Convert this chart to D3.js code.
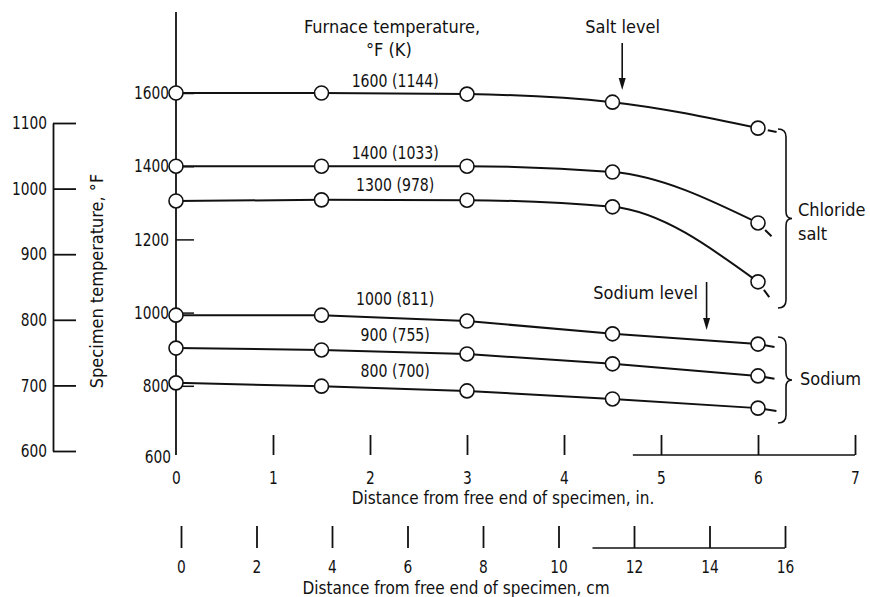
<!DOCTYPE html>
<html><head><meta charset="utf-8">
<script src="https://cdn.jsdelivr.net/npm/d3@7"></script>
<style>
html,body{margin:0;padding:0;background:#fff;}
svg text{font-family:"DejaVu Sans Condensed","DejaVu Sans",sans-serif;fill:#111;}
</style></head>
<body><svg id="c" width="870" height="597"></svg>
<script>
// ---- data ----
const distIn = [0, 1.5, 3, 4.5, 6];
const furnace = ["1600 (1144)", "1400 (1033)", "1300 (978)", "1000 (811)", "900 (755)", "800 (700)"];
const medium = ["salt", "salt", "salt", "sodium", "sodium", "sodium"];
const s1600 = [1600, 1600, 1597, 1575, 1504];
const s1400 = [1400, 1400, 1400, 1384, 1245];
const s1300 = [1305, 1308, 1307, 1289, 1084];
const s1000 = [993, 993, 977, 942, 914];
const s900  = [903, 898, 887, 860, 827];
const s800  = [808, 799, 786, 764, 739];
const tailX = [6.25, 6.21, 6.16, 6.17, 6.17, 6.19];
const tailY = [1490, 1190, 1026, 906, 819, 731];
const labelY = [1617, 1420, 1333, 1020, 922, 825];
const mainTicks = [600, 800, 1000, 1200, 1400, 1600];
const specTicks = [600, 700, 800, 900, 1000, 1100];
const inTicks = [0, 1, 2, 3, 4, 5, 6, 7];
const cmTicks = [0, 2, 4, 6, 8, 10, 12, 14, 16];

const series = [s1600, s1400, s1300, s1000, s900, s800];

const svg = d3.select("#c");
const xIn = d3.scaleLinear().domain([0, 7]).range([176, 855]);
const xCm = d3.scaleLinear().domain([0, 16]).range([181, 785]);
const yMain = d3.scaleLinear().domain([600, 1600]).range([459, 93]);
const ySpec = d3.scaleLinear().domain([600, 1100]).range([451, 123]);
const FS = 18;

// narrow digits like the original lettering
function narrow(sel, k) {
  sel.each(function () {
    const w = this.getComputedTextLength();
    d3.select(this).attr("textLength", w * k).attr("lengthAdjust", "spacingAndGlyphs");
  });
}

// left specimen axis
const gSpec = svg.append("g").attr("transform", "translate(53,0)")
  .call(d3.axisLeft(ySpec).tickValues(specTicks).tickSizeInner(-23).tickSizeOuter(0).tickPadding(6).tickFormat(d3.format("d")));
gSpec.selectAll("path,line").attr("stroke", "#111").attr("stroke-width", 1.8);
gSpec.selectAll("text").attr("font-size", FS).attr("font-family", null).call(narrow, 0.85);
svg.append("text").attr("transform", "translate(103,281) rotate(-90)")
  .attr("text-anchor", "middle").attr("font-size", FS).text("Specimen temperature, °F");

// main y axis
svg.append("line").attr("x1", 176).attr("x2", 176).attr("y1", 12).attr("y2", 455)
  .attr("stroke", "#111").attr("stroke-width", 1.8);
const gMain = svg.append("g").attr("transform", "translate(176,0)")
  .call(d3.axisLeft(yMain).tickValues(mainTicks).tickSize(-18).tickPadding(7).tickFormat(d3.format("d")));
gMain.select(".domain").remove();
gMain.selectAll("line").attr("stroke", "#111").attr("stroke-width", 1.5);
gMain.selectAll(".tick").filter(d => d === 600).select("line").remove();
gMain.selectAll(".tick").filter(d => d === 600).select("text").attr("x", -5).attr("dy", "0.2em");
gMain.selectAll("text").attr("font-size", FS).attr("font-family", null).call(narrow, 0.85);

// inch axis
const gIn = svg.append("g").attr("transform", "translate(0,455)")
  .call(d3.axisBottom(xIn).tickValues(inTicks).tickSize(-20).tickPadding(16).tickFormat(d3.format("d")));
gIn.select(".domain").remove();
gIn.selectAll("line").attr("stroke", "#111").attr("stroke-width", 1.8);
gIn.selectAll(".tick").filter(d => d === 0).select("line").remove();
gIn.selectAll("text").attr("font-size", FS).attr("font-family", null).call(narrow, 0.85);
svg.append("line").attr("x1", xIn(4.71)).attr("x2", xIn(7)).attr("y1", 455).attr("y2", 455)
  .attr("stroke", "#111").attr("stroke-width", 1.5);
svg.append("text").attr("x", 503).attr("y", 504).attr("text-anchor", "middle")
  .attr("font-size", 17).text("Distance from free end of specimen,  in.");

// cm axis
const gCm = svg.append("g").attr("transform", "translate(0,548)")
  .call(d3.axisBottom(xCm).tickValues(cmTicks).tickSize(-22).tickPadding(12).tickFormat(d3.format("d")));
gCm.select(".domain").remove();
gCm.selectAll("line").attr("stroke", "#111").attr("stroke-width", 1.8);
gCm.selectAll("text").attr("font-size", FS).attr("font-family", null).call(narrow, 0.85);
svg.append("line").attr("x1", xCm(10.9)).attr("x2", xCm(16)).attr("y1", 548).attr("y2", 548)
  .attr("stroke", "#111").attr("stroke-width", 1.5);
svg.append("text").attr("x", 456).attr("y", 594).attr("text-anchor", "middle")
  .attr("font-size", 17).text("Distance from free end of specimen,  cm");

// curves
const lineSmooth = d3.line().x(d => xIn(d[0])).y(d => yMain(d[1])).curve(d3.curveMonotoneX);
const lineStraight = d3.line().x(d => xIn(d[0])).y(d => yMain(d[1]));
series.forEach((s, i) => {
  const pts = distIn.map((x, j) => [x, s[j]]);
  const isSalt = medium[i] === "salt";
  svg.append("path").attr("d", (isSalt ? lineSmooth : lineStraight)(pts))
    .attr("fill", "none").attr("stroke", "#111").attr("stroke-width", 2);
  const tail = [[6, s[4]], [tailX[i], tailY[i]]];
  svg.append("path").attr("d", lineStraight(tail)).attr("fill", "none")
    .attr("stroke", "#111").attr("stroke-width", 2)
    .attr("stroke-dasharray", isSalt ? "0,10,9,100" : null);
  svg.selectAll(null).data(pts).enter().append("circle")
    .attr("cx", d => xIn(d[0])).attr("cy", d => yMain(d[1])).attr("r", 7)
    .attr("fill", "#fff").attr("stroke", "#111").attr("stroke-width", 1.6);
  svg.append("text").attr("x", xIn(2.26)).attr("y", yMain(labelY[i]))
    .attr("text-anchor", "middle").attr("font-size", FS).text(furnace[i]).call(narrow, 0.87);
});

// titles and annotations
svg.append("text").attr("x", 304).attr("y", 33).attr("font-size", FS).text("Furnace temperature,");
svg.append("text").attr("x", 366).attr("y", 56).attr("font-size", FS).text("°F (K)");
svg.append("text").attr("x", 660).attr("y", 33).attr("text-anchor", "end").attr("font-size", FS).text("Salt level");
svg.append("text").attr("x", 698).attr("y", 299).attr("text-anchor", "end").attr("font-size", FS).text("Sodium level");

function arrow(x, y1, y2) {
  svg.append("line").attr("x1", x).attr("x2", x).attr("y1", y1).attr("y2", y2 - 10)
    .attr("stroke", "#111").attr("stroke-width", 1.6);
  svg.append("path").attr("d", `M${x - 3.5},${y2 - 12}L${x + 3.5},${y2 - 12}L${x},${y2}Z`).attr("fill", "#111");
}
arrow(xIn(4.6), 43, 90);
arrow(xIn(5.47), 282, 330);

function brace(x, y1, y2) {
  const m = (y1 + y2) / 2;
  svg.append("path").attr("d",
    `M${x - 8},${y1} Q${x},${y1} ${x},${y1 + 8} L${x},${m - 7} Q${x},${m} ${x + 6},${m} Q${x},${m} ${x},${m + 7} L${x},${y2 - 8} Q${x},${y2} ${x - 8},${y2}`)
    .attr("fill", "none").attr("stroke", "#111").attr("stroke-width", 1.6);
}
brace(786, 129, 308);
brace(786, 337, 423);
svg.append("text").attr("x", 798).attr("y", 216).attr("font-size", FS).text("Chloride");
svg.append("text").attr("x", 798).attr("y", 240).attr("font-size", FS).text("salt");
svg.append("text").attr("x", 800).attr("y", 385).attr("font-size", FS).text("Sodium");
</script></body></html>
